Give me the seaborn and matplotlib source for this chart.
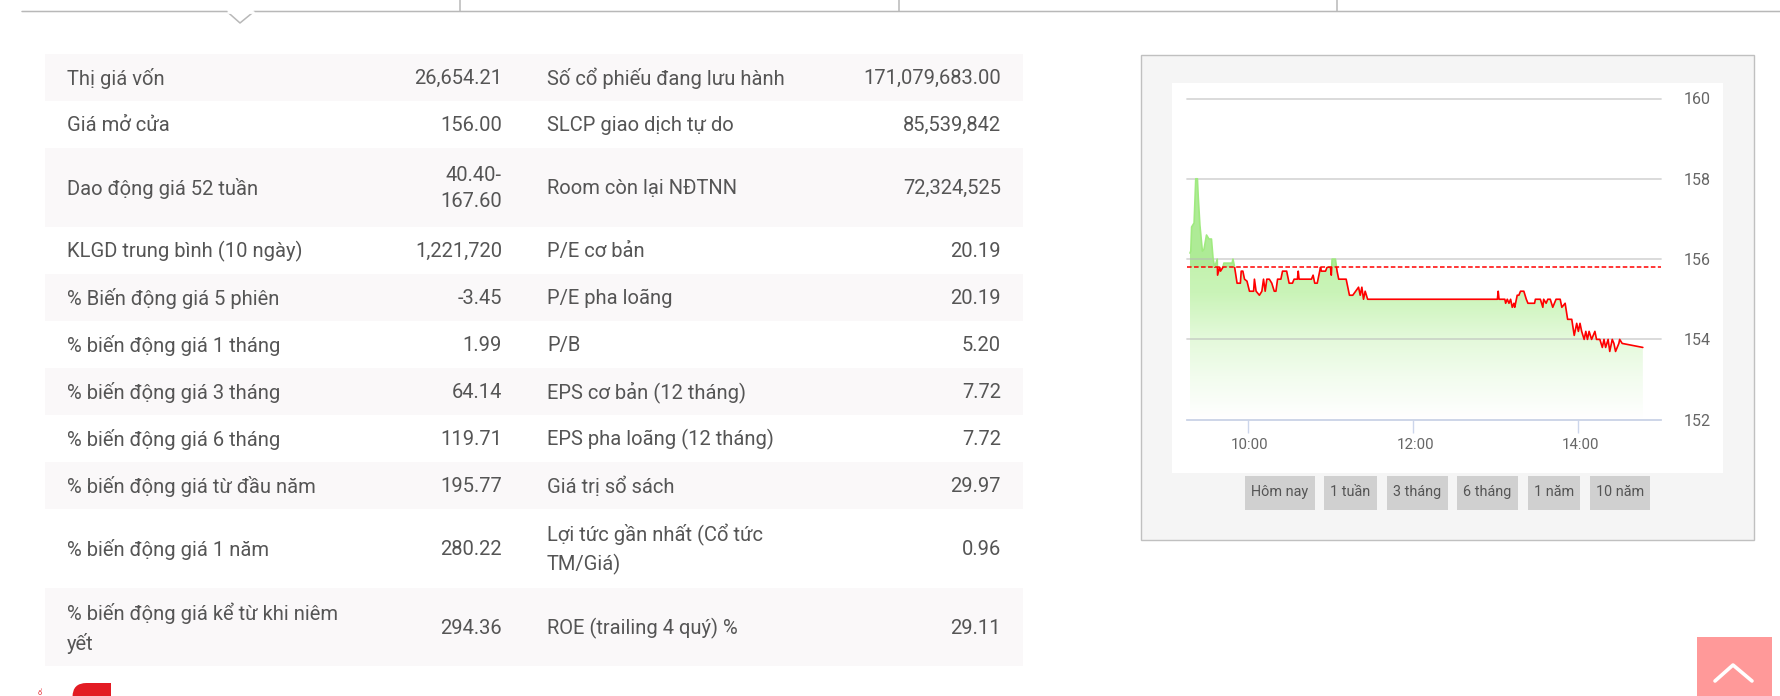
import numpy as np
import pandas as pd
import seaborn as sns
import matplotlib.pyplot as plt
from matplotlib.colors import LinearSegmentedColormap
from matplotlib.patches import FancyBboxPatch, Rectangle
from matplotlib.transforms import ScaledTranslation

# table rows
labels_left = ["Thị giá vốn", "Giá mở cửa", "Dao động giá 52 tuần", "KLGD trung bình (10 ngày)",
               "% Biến động giá 5 phiên", "% biến động giá 1 tháng", "% biến động giá 3 tháng",
               "% biến động giá 6 tháng", "% biến động giá từ đầu năm", "% biến động giá 1 năm",
               "% biến động giá kể từ khi niêm\nyết"]
values_left = ["26,654.21", "156.00", "40.40-\n167.60", "1,221,720", "-3.45", "1.99", "64.14",
               "119.71", "195.77", "280.22", "294.36"]
labels_right = ["Số cổ phiếu đang lưu hành", "SLCP giao dịch tự do", "Room còn lại NĐTNN", "P/E cơ bản",
                "P/E pha loãng", "P/B", "EPS cơ bản (12 tháng)", "EPS pha loãng (12 tháng)",
                "Giá trị sổ sách", "Lợi tức gần nhất (Cổ tức\nTM/Giá)", "ROE (trailing 4 quý) %"]
values_right = ["171,079,683.00", "85,539,842", "72,324,525", "20.19", "20.19", "5.20", "7.72",
                "7.72", "29.97", "0.96", "29.11"]
row_edges = [54, 101, 148, 227, 274, 321, 368, 415, 462, 509, 588, 666]

# intraday price
hours = [9.30, 9.31, 9.32, 9.35, 9.37, 9.39, 9.40, 9.42, 9.45, 9.47, 9.50, 9.53, 9.56, 9.58, 9.60,
         9.63, 9.634, 9.66, 9.67, 9.70, 9.71, 9.81, 9.82, 9.84, 9.87, 9.91, 9.92, 9.94, 9.96, 9.99,
         10.02, 10.07, 10.08, 10.10, 10.14, 10.17, 10.19, 10.21, 10.23, 10.26, 10.29, 10.32, 10.34,
         10.36, 10.40, 10.42, 10.47, 10.50, 10.54, 10.56, 10.60, 10.61, 10.62, 10.77, 10.79, 10.81,
         10.84, 10.88, 10.89, 10.94, 10.96, 11.00, 11.01, 11.02, 11.06, 11.08, 11.10, 11.19, 11.23,
         11.27, 11.34, 11.36, 11.38, 11.40, 11.42, 11.45, 13.02, 13.03, 13.04, 13.11, 13.12, 13.14,
         13.16, 13.18, 13.20, 13.22, 13.23, 13.26, 13.28, 13.30, 13.34, 13.37, 13.39, 13.47, 13.48,
         13.52, 13.54, 13.57, 13.58, 13.61, 13.63, 13.66, 13.69, 13.73, 13.78, 13.80, 13.84, 13.87,
         13.92, 13.95, 13.98, 14.00, 14.02, 14.04, 14.07, 14.09, 14.11, 14.13, 14.16, 14.20, 14.22,
         14.26, 14.29, 14.31, 14.33, 14.36, 14.38, 14.41, 14.43, 14.45, 14.49, 14.50, 14.53, 14.78]
prices = [156.15, 156.2, 156.8, 156.9, 158.0, 158.0, 157.55, 156.85, 156.2, 156.25, 156.6, 156.5,
          156.5, 156.0, 155.8, 156.0, 155.6, 155.8, 155.7, 155.8, 155.9, 155.9, 156.0, 155.8, 155.4,
          155.4, 155.7, 155.7, 155.5, 155.45, 155.2, 155.2, 155.5, 155.2, 155.1, 155.2, 155.5, 155.2,
          155.5, 155.5, 155.4, 155.2, 155.2, 155.5, 155.5, 155.7, 155.7, 155.4, 155.4, 155.5, 155.5,
          155.7, 155.5, 155.5, 155.6, 155.4, 155.4, 155.8, 155.7, 155.7, 155.8, 155.8, 155.6, 156.0,
          156.0, 155.7, 155.5, 155.5, 155.1, 155.1, 155.3, 155.1, 155.3, 155.0, 155.2, 155.0, 155.0,
          155.2, 155.0, 155.0, 154.9, 155.0, 154.9, 155.0, 154.8, 154.9, 154.8, 155.1, 155.1, 155.2,
          155.2, 155.0, 154.9, 154.9, 155.0, 155.0, 155.0, 154.8, 155.0, 154.9, 155.0, 155.0, 154.8,
          155.0, 155.0, 154.8, 154.9, 154.5, 154.5, 154.1, 154.4, 154.2, 154.4, 154.2, 154.0, 154.2,
          154.0, 154.2, 154.0, 154.2, 154.0, 154.0, 153.8, 154.0, 153.8, 154.0, 153.7, 154.0, 153.9,
          153.7, 153.9, 154.0, 153.9, 153.8]
ref_price = 155.8
y_ticks = [152, 154, 156, 158, 160]
x_ticks = [10, 12, 14]
x_tick_labels = ["10:00", "12:00", "14:00"]
buttons = ["Hôm nay", "1 tuần", "3 tháng", "6 tháng", "1 năm", "10 năm"]
button_edges = [(1245, 1315), (1324, 1377), (1387, 1448), (1457, 1518), (1528, 1580), (1590, 1650)]

W, H = 1780, 696
TEXT = "#555555"

sns.set_theme(style="white")
plt.rcParams['font.family'] = ['Roboto', 'DejaVu Sans']

fig = plt.figure(figsize=(W / 100, H / 100), dpi=100, facecolor="white")

# page in pixel coordinates
page = fig.add_axes([0, 0, 1, 1])
page.set_xlim(0, W)
page.set_ylim(H, 0)
page.axis("off")

# tab strip on top
page.plot([22, 227, 240, 254, W], [11.5, 11.5, 23, 11.5, 11.5], color="#b8b8b8", lw=1.1)
page.plot([228, 253], [11.5, 11.5], color="white", lw=2)
for x in [460, 899, 1337]:
    page.plot([x, x], [0, 11], color="#b8b8b8", lw=1.1)

# table
FS = 14.5
for i in range(len(labels_left)):
    top, bottom = row_edges[i], row_edges[i + 1]
    mid = (top + bottom) / 2 + 1
    if i % 2 == 0:
        page.add_patch(Rectangle((45, top), 978, bottom - top, color="#faf8f9", lw=0))
    kw = dict(va="center", color=TEXT, fontsize=FS, linespacing=1.52)
    page.text(67, mid, labels_left[i], ha="left", **kw)
    page.text(502, mid, values_left[i], ha="right", multialignment="right", **kw)
    page.text(547, mid, labels_right[i], ha="left", **kw)
    page.text(1001, mid, values_right[i], ha="right", **kw)

# chart panel
page.add_patch(Rectangle((1141, 55), 613, 485, facecolor="#f5f5f5", edgecolor="#c0c0c0", lw=1))
page.add_patch(Rectangle((1172, 83), 551, 390, color="white", lw=0))
for name, (x0, x1) in zip(buttons, button_edges):
    page.add_patch(Rectangle((x0, 476), x1 - x0, 34, color="#d0d0d0", lw=0))
    page.text((x0 + x1) / 2, 492, name, ha="center", va="center", color=TEXT, fontsize=10.4)

# bottom bits
page.text(40, 695, "ổ", ha="center", va="baseline", color="#e31b23", fontsize=5)
page.add_patch(FancyBboxPatch((72.5, 683), 60, 40, boxstyle="round,pad=0,rounding_size=14",
                              color="#e31b23", lw=0))
page.add_patch(Rectangle((111, 680), 30, 16, color="white", lw=0))
page.add_patch(Rectangle((1697, 637), 75, 59, color="#ff9999", lw=0))
page.plot([1715, 1733, 1752], [681, 665, 681], color="white", lw=2.6, solid_capstyle="round")

# price chart
ax = fig.add_axes([1187 / W, 1 - 419.7 / H, (1661 - 1187) / W, (419.7 - 98.5) / H])
ax.patch.set_alpha(0)
df = pd.DataFrame({"hour": hours, "price": prices})

cmap = LinearSegmentedColormap.from_list(
    "fade", ["#ffffff", "#f2fcee", "#e2f9d8", "#caf4b8", "#c0f1aa"], N=256)
grad = np.linspace(1, 0, 256).reshape(-1, 1)
im = ax.imshow(grad, extent=(9.3, 14.78, 152.05, 156.2), aspect="auto", cmap=cmap, zorder=0)
poly = ax.fill_between(df["hour"], 152.05, df["price"], color="none", lw=0)
im.set_clip_path(poly.get_paths()[0], transform=ax.transData)
ax.fill_between(df["hour"], ref_price, df["price"], where=df["price"] >= ref_price,
                interpolate=True, color="#aeeb96", lw=0, zorder=0.5)

sns.lineplot(data=df, x="hour", y="price", ax=ax, color="#a0ea80", lw=1.2,
             estimator=None, sort=False)
sns.lineplot(data=df, x="hour", y="price", ax=ax, color="#ff0000", lw=1.2,
             estimator=None, sort=False)
ax.lines[0].set_clip_path(Rectangle((9, ref_price), 7, 4, transform=ax.transData))
ax.lines[1].set_clip_path(Rectangle((9, 150), 7, ref_price - 150, transform=ax.transData))
ax.axhline(ref_price, color="#ff0000", lw=1.1, ls=(0, (3, 1.6)))

ax.set_xlim(9.264, 15.0)
ax.set_ylim(152, 160)
ax.set_xticks(x_ticks, x_tick_labels)
ax.set_yticks(y_ticks)
ax.yaxis.tick_right()
ax.grid(axis="y", color="#b8b8b8", alpha=0.55, lw=1.3, clip_on=False)
ax.set_axisbelow("line")
ax.set_xlabel("")
ax.set_ylabel("")
sns.despine(ax=ax, left=True, right=True, top=True)
ax.spines["bottom"].set_color("#ccd6eb")
ax.spines["bottom"].set_linewidth(1.2)
ax.tick_params(axis="x", length=9, width=1, color="#ccd6eb", labelcolor="#666666",
               labelsize=10.8, pad=4, bottom=True)
ax.tick_params(axis="y", length=0, labelcolor="#666666", labelsize=11.5, pad=16)
# tick labels sit slightly right of their ticks
shift = ScaledTranslation(2 / 100, 0, fig.dpi_scale_trans)
for lab in ax.get_xticklabels():
    lab.set_transform(lab.get_transform() + shift)

fig.savefig("out.png", dpi=100)
